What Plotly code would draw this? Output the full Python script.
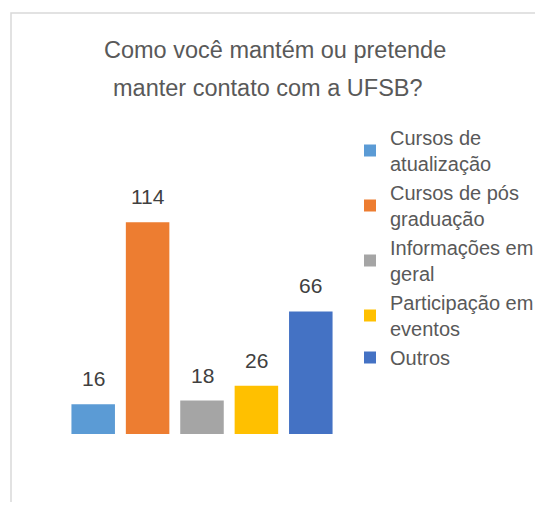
import plotly.graph_objects as go

categories = ["Cursos de atualização", "Cursos de pós graduação", "Informações em geral",
              "Participação em eventos", "Outros"]
legend_labels = ["Cursos de<br>atualização", "Cursos de pós<br>graduação", "Informações em<br>geral",
                 "Participação em<br>eventos", "Outros"]
values = [16, 114, 18, 26, 66]
colors = ["#5B9BD5", "#ED7D31", "#A5A5A5", "#FFC000", "#4472C4"]

# page has an 8px body margin, so the figure is drawn a bit smaller and shifted
OFF = 8
W, H = 543 - 2 * OFF, 510 - 2 * OFF
L, R, T, B = 66 - OFF, W - (338 - OFF), 200 - OFF, H - (434 - OFF)
pw, ph = W - L - R, H - T - B


def fx(px):
    return (px - OFF - L) / pw


def fy(py):
    return (H - B - (py - OFF)) / ph


FONT = "Liberation Sans"

fig = go.Figure()
for cat, lab, v, c in zip(categories, legend_labels, values, colors):
    fig.add_trace(go.Bar(x=[cat], y=[v], name=lab, marker_color=c, marker_line_width=0))

for cat, v in zip(categories, values):
    fig.add_annotation(x=cat, y=v, text=str(v), showarrow=False, yanchor="bottom", yshift=12,
                       font=dict(family=FONT, size=21, color="#404040"))

# title, two lines
fig.add_annotation(x=fx(275), y=fy(50), xref="paper", yref="paper", text="Como você mantém ou pretende",
                   showarrow=False, xanchor="center", yanchor="middle",
                   font=dict(family=FONT, size=23.5, color="#595959"))
fig.add_annotation(x=fx(268), y=fy(88), xref="paper", yref="paper", text="manter contato com a UFSB?",
                   showarrow=False, xanchor="center", yanchor="middle",
                   font=dict(family=FONT, size=23.5, color="#595959"))

# chart border
fig.add_shape(type="rect", xref="paper", yref="paper", x0=fx(11), x1=fx(560), y0=fy(530), y1=fy(13),
              line=dict(color="#D9D9D9", width=1.5), fillcolor="rgba(0,0,0,0)", layer="below")

fig.update_layout(
    width=W, height=H,
    margin=dict(l=L, r=R, t=T, b=B, autoexpand=False),
    paper_bgcolor="white", plot_bgcolor="white",
    bargap=0.2,
    barmode="overlay",
    showlegend=True,
    legend=dict(x=fx(350), y=fy(118), xanchor="left", yanchor="top", xref="paper", yref="paper",
                font=dict(family=FONT, size=20, color="#595959"), bgcolor="rgba(0,0,0,0)",
                traceorder="normal"),
    xaxis=dict(visible=False, categoryorder="array", categoryarray=categories),
    yaxis=dict(visible=False, range=[0, 126]),
)

fig.write_html("out.html")
